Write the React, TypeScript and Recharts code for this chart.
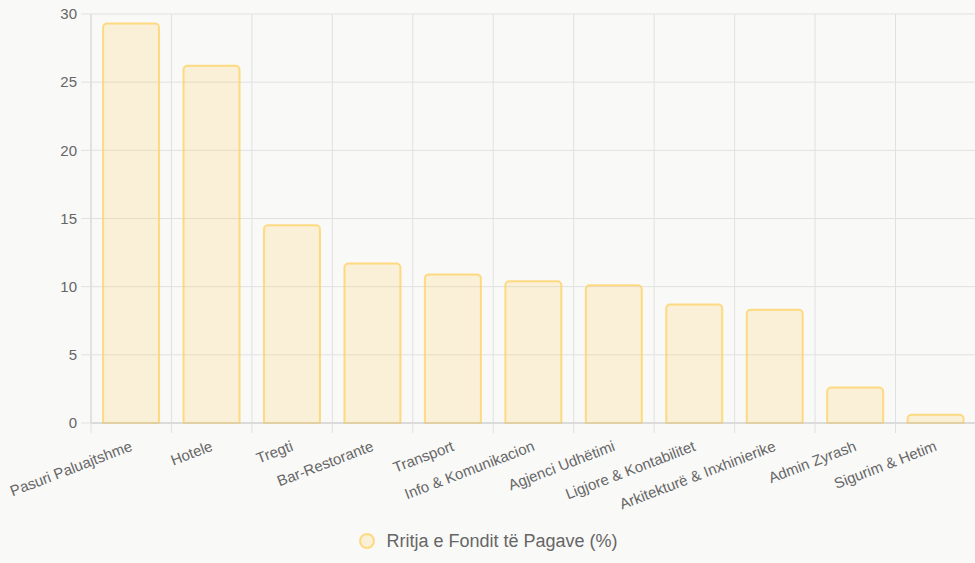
import { BarChart, Bar, XAxis, YAxis, CartesianGrid, Legend } from 'recharts'

const categories = [
  'Pasuri Paluajtshme',
  'Hotele',
  'Tregti',
  'Bar-Restorante',
  'Transport',
  'Info & Komunikacion',
  'Agjenci Udhëtimi',
  'Ligjore & Kontabilitet',
  'Arkitekturë & Inxhinierike',
  'Admin Zyrash',
  'Sigurim & Hetim',
]
const growth = [29.3, 26.2, 14.5, 11.7, 10.9, 10.4, 10.1, 8.7, 8.3, 2.6, 0.6]
const yTicks = [0, 5, 10, 15, 20, 25, 30]
const seriesName = 'Rritja e Fondit të Pagave (%)'

const FONT = '"Liberation Sans", Arial, sans-serif'
const FILL = 'rgba(255, 206, 86, 0.2)'
const BORDER = 'rgba(255, 206, 86, 0.7)'
const GRID = '#e1e1e0'

const data = categories.map((name, i) => ({ name, value: growth[i] }))

// vertical grid lines sit on the category borders, not the centres
const borderLines = ({ offset }: any) =>
  [...categories.map((_, i) => i), categories.length].map(i => offset.left + (offset.width * i) / categories.length)

function AngledTick(props: any) {
  const { x, y, payload, width, visibleTicksCount, index } = props
  const band = width / (visibleTicksCount || categories.length)
  const ty = y + 22
  return (
    <g>
      <line x1={x - band / 2} x2={x - band / 2} y1={y} y2={y + 10} stroke={GRID} />
      {index === categories.length - 1 && <line x1={x + band / 2} x2={x + band / 2} y1={y} y2={y + 10} stroke={GRID} />}
      <text
        x={x}
        y={ty}
        textAnchor="end"
        dominantBaseline="central"
        transform={`rotate(-21 ${x} ${ty})`}
        fill="#666"
        fontSize={15}
        fontFamily={FONT}
      >
        {payload.value}
      </text>
    </g>
  )
}

function LegendBox() {
  return (
    <div style={{ height: 44, display: 'flex', justifyContent: 'center', alignItems: 'center', fontFamily: FONT }}>
      <svg width={18} height={18} style={{ marginRight: 10 }}>
        <circle cx={9} cy={9} r={7} fill={FILL} stroke={BORDER} strokeWidth={2} />
      </svg>
      <span style={{ fontSize: 18, color: '#666' }}>{seriesName}</span>
    </div>
  )
}

export default function App() {
  return (
    <div style={{ position: 'absolute', left: 0, top: 0, width: 975, height: 563, background: '#f9f9f8', overflow: 'hidden' }}>
      <BarChart width={976} height={563} data={data} margin={{ top: 14, right: 0, left: 0, bottom: 0 }} barCategoryGap="15%">
        <CartesianGrid stroke={GRID} verticalCoordinatesGenerator={borderLines} />
        <XAxis
          dataKey="name"
          interval={0}
          height={96}
          tickLine={false}
          tickSize={0}
          tickMargin={0}
          axisLine={{ stroke: '#c9c9c9' }}
          tick={<AngledTick />}
        />
        <YAxis
          domain={[0, 30]}
          ticks={yTicks}
          width={91}
          tickSize={10}
          tickMargin={4}
          tickLine={{ stroke: GRID }}
          axisLine={{ stroke: '#d6d6d6' }}
          tick={{ fill: '#666', fontSize: 15, fontFamily: FONT }}
        />
        <Legend verticalAlign="bottom" content={<LegendBox />} />
        <Bar
          dataKey="value"
          name={seriesName}
          fill={FILL}
          stroke={BORDER}
          strokeWidth={2}
          radius={[4, 4, 0, 0]}
          isAnimationActive={false}
        />
      </BarChart>
    </div>
  )
}
